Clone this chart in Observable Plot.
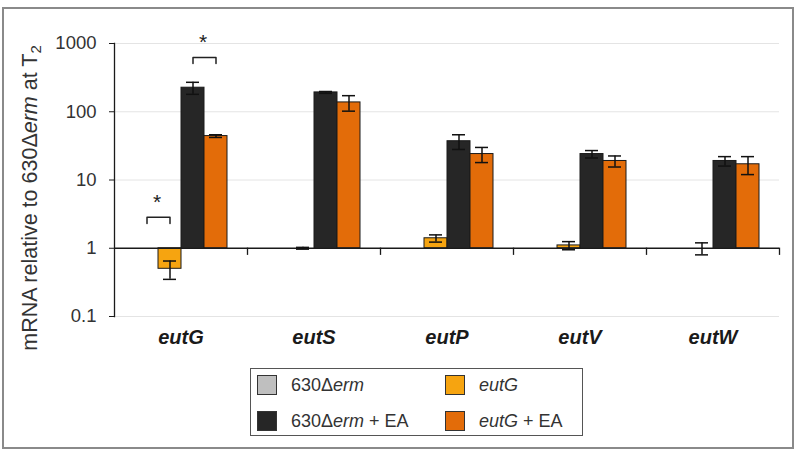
<!DOCTYPE html>
<html>
<head>
<meta charset="utf-8">
<script src="https://cdn.jsdelivr.net/npm/d3@7"></script>
<script src="https://cdn.jsdelivr.net/npm/@observablehq/plot@0.6"></script>
<style>
  html, body { margin: 0; padding: 0; background: #fff; }
  #wrap { position: relative; width: 800px; height: 452px; overflow: hidden; font-family: "Liberation Sans", Arial, sans-serif; }
  #border { position: absolute; left: 2px; top: 7px; width: 788px; height: 438px; border: 2px solid #8a8a8a; }
  #chart { position: absolute; left: 0; top: 0; }
  #legend { position: absolute; left: 250px; top: 368px; width: 331px; height: 66px; border: 1.5px solid #555; }
  .item { position: absolute; display: flex; align-items: center; font-size: 18px; color: #333; height: 22px; }
  .sw { width: 20px; height: 20px; border: 1px solid #333; box-sizing: border-box; margin-right: 14px; }
</style>
</head>
<body>
<div id="wrap">
  <div id="border"></div>
  <div id="chart"></div>
  <div id="legend"></div>
</div>
<script>
// ---- data ----
const genes = ["eutG", "eutS", "eutP", "eutV", "eutW"];
const series = ["630Δerm", "eutG", "630Δerm + EA", "eutG + EA"];
const colors = ["#bfbfbf", "#f6a410", "#262626", "#e36c09"];

const wt          = [1, 1, 1, 1, 1];
const wtErr       = [0, 0, 0, 0, 0];
const mutant      = [0.5, 1.0, 1.4, 1.1, 1.0];
const mutantErr   = [0.15, 0.03, 0.17, 0.15, 0.2];
const wtEA        = [225, 192, 37, 24, 19];
const wtEAErr     = [45, 6, 9, 3, 3];
const mutantEA    = [44, 137, 24, 19, 17];
const mutantEAErr = [2, 35, 6, 3.5, 5];

const yTicks = [0.1, 1, 10, 100, 1000];

// significance annotations: gene, left series, right series, leg value, top value
const sigGene  = ["eutG", "eutG"];
const sigLeft  = ["630Δerm", "630Δerm + EA"];
const sigRight = ["eutG", "eutG + EA"];
const sigLeg   = [2.3, 510];
const sigTop   = [2.85, 625];

// ---- tables ----
const values = [wt, mutant, wtEA, mutantEA];
const errs = [wtErr, mutantErr, wtEAErr, mutantEAErr];
const rows = genes.flatMap((g, i) => series.map((s, j) => ({gene: g, series: s, value: values[j][i], err: errs[j][i]})));
const errRows = rows.filter(d => d.err > 0);
const bracketPts = sigGene.flatMap((g, k) => [
  {id: k, gene: g, s: sigLeft[k], y: sigLeg[k]},
  {id: k, gene: g, s: sigLeft[k], y: sigTop[k]},
  {id: k, gene: g, s: sigRight[k], y: sigTop[k]},
  {id: k, gene: g, s: sigRight[k], y: sigLeg[k]}
]);
const stars = sigGene.map((g, k) => ({gene: g, s: sigLeft[k], y: sigTop[k]}));

// ---- layout ----
const W = 800, H = 362;
const mL = 113, mR = 20, mT = 43, mB = 46;
const padOuter = 0.78;
const facetW = (W - mL - mR) / genes.length;
const step = facetW / (series.length + 2 * padOuter);
const innerH = H - mT - mB;
const yDomain = [0.1, 1000];
const baseFrac = Math.log10(yDomain[1] / 1) / Math.log10(yDomain[1] / yDomain[0]);
const basePix = innerH * baseFrac;   // distance of the y=1 baseline from the top of the frame
const catTick = 6;                    // length of category separator ticks below baseline

const plot = Plot.plot({
  width: W, height: H,
  marginLeft: mL, marginRight: mR, marginTop: mT, marginBottom: mB,
  style: {fontFamily: "'Liberation Sans', Arial, sans-serif", fontSize: "18px", color: "#333", overflow: "visible", background: "transparent"},
  fx: {domain: genes, padding: 0, axis: null},
  x: {domain: series, paddingInner: 0, paddingOuter: padOuter, axis: null},
  y: {type: "log", domain: yDomain, axis: null},
  color: {domain: series, range: colors},
  marks: [
    Plot.ruleY(yTicks.filter(t => t !== 1), {stroke: "#e4e4e4", strokeWidth: 1}),
    Plot.barY(rows, {fx: "gene", x: "series", y1: () => 1, y2: "value", fill: "series", stroke: "#1a1a1a", strokeWidth: 1}),
    Plot.ruleY([1], {stroke: "#1a1a1a", strokeWidth: 1.3}),
    Plot.frame({anchor: "right", insetTop: basePix, insetBottom: innerH - basePix - catTick, stroke: "#1a1a1a", strokeWidth: 1.3}),
    Plot.frame({anchor: "left", facetAnchor: "left", stroke: "#1a1a1a", strokeWidth: 1.3}),
    Plot.ruleX(errRows, {fx: "gene", x: "series", y1: d => d.value - d.err, y2: d => d.value + d.err, stroke: "#111", strokeWidth: 1.5}),
    Plot.tickY(errRows, {fx: "gene", x: "series", y: d => d.value - d.err, insetLeft: 5, insetRight: 5, stroke: "#111", strokeWidth: 1.5}),
    Plot.tickY(errRows, {fx: "gene", x: "series", y: d => d.value + d.err, insetLeft: 5, insetRight: 5, stroke: "#111", strokeWidth: 1.5}),
    Plot.line(bracketPts, {fx: "gene", x: "s", y: "y", z: "id", stroke: "#222", strokeWidth: 1.5}),
    Plot.text(stars, {fx: "gene", x: "s", y: "y", dx: step / 2 - 2, dy: -15, text: () => "*", fontSize: 21, fill: "#222"}),
    Plot.axisY({ticks: yTicks, tickFormat: d => String(d), tickSize: 5, tickPadding: 13, fontSize: 18.5, label: null, stroke: "#1a1a1a"}),
    Plot.axisFx({anchor: "bottom", tickSize: 0, tickPadding: 13, fontSize: 20, fontWeight: "bold", fontStyle: "italic", label: null, fill: "#1a1a1a"})
  ]
});
document.getElementById("chart").appendChild(plot);

// y-axis title with italic "erm" and subscript 2
const svg = d3.select(plot);
const title = svg.append("text")
  .attr("transform", "translate(30,198) rotate(-90)")
  .attr("text-anchor", "middle")
  .attr("dominant-baseline", "central")
  .attr("font-size", 21.5)
  .attr("fill", "#333");
title.append("tspan").text("mRNA relative to 630Δ");
title.append("tspan").attr("font-style", "italic").text("erm");
title.append("tspan").text(" at T");
title.append("tspan").attr("font-size", 15).attr("dy", 5).text("2");

// legend
const pos = [
  {left: 6, top: 5}, {left: 194, top: 5},
  {left: 6, top: 41}, {left: 194, top: 41}
];
const legend = document.getElementById("legend");
series.forEach((name, k) => {
  const it = document.createElement("div");
  it.className = "item";
  it.style.left = pos[k].left + "px";
  it.style.top = pos[k].top + "px";
  const sw = document.createElement("div");
  sw.className = "sw";
  sw.style.background = colors[k];
  it.appendChild(sw);
  const lab = document.createElement("span");
  lab.innerHTML = name.replace("erm", "<i>erm</i>").replace(/^eutG/, "<i>eutG</i>");
  it.appendChild(lab);
  legend.appendChild(it);
});
</script>
</body>
</html>
